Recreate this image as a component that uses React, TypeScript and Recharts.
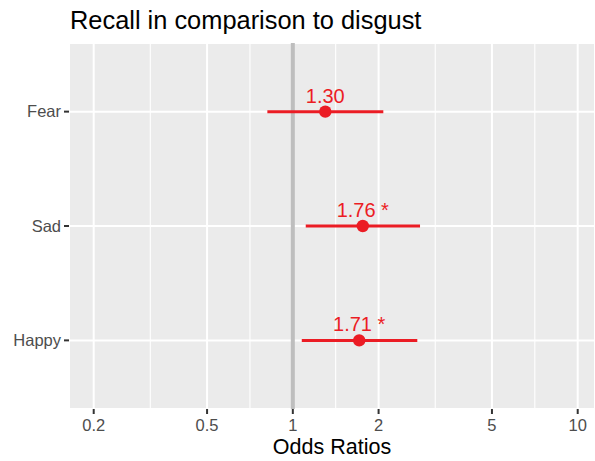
import React from 'react';
import {
  ScatterChart,
  Scatter,
  XAxis,
  YAxis,
  CartesianGrid,
  ReferenceLine,
  ErrorBar,
} from 'recharts';

const categories = ['Fear', 'Sad', 'Happy'];
const oddsRatios = [1.3, 1.76, 1.71];
const ciLow = [0.814, 1.11, 1.075];
const ciHigh = [2.078, 2.796, 2.735];
const pointLabels = ['1.30', '1.76 *', '1.71 *'];
const xTicks = [0.2, 0.5, 1, 2, 5, 10];
const xMinorBreaks = [0.316, 0.707, 1.414, 3.162, 7.071];
const xDomain = [0.1638, 11.5];

const RED = '#EB1C24';
const FONT = '"Liberation Sans", Arial, Helvetica, sans-serif';

const data = categories.map((cat, i) => ({
  cat,
  pos: categories.length - i,
  or: oddsRatios[i],
  err: [oddsRatios[i] - ciLow[i], ciHigh[i] - oddsRatios[i]],
  label: pointLabels[i],
}));

const yTicks = data.map((d) => d.pos);
const posToCat = (v: number) => {
  const d = data.find((r) => r.pos === v);
  return d ? d.cat : '';
};

const PointShape = (props: any) => {
  const { cx, cy, payload } = props;
  return (
    <g>
      <circle cx={cx} cy={cy} r={6.2} fill={RED} />
      <text
        x={cx}
        y={cy - 9}
        textAnchor="middle"
        fontSize={20}
        fontFamily={FONT}
        fill={RED}
      >
        {payload.label}
      </text>
    </g>
  );
};

export default function App() {
  return (
    <div style={{ position: 'absolute', left: 0, top: 0, width: 595, height: 461, fontFamily: FONT }}>
      <div
        style={{
          position: 'absolute',
          left: 70,
          top: 8,
          fontSize: 25.4,
          lineHeight: '25px',
          color: '#000',
          whiteSpace: 'nowrap',
          fontFamily: FONT,
        }}
      >
        Recall in comparison to disgust
      </div>
      <ScatterChart
        width={595}
        height={461}
        margin={{ top: 43, right: 0, bottom: 0, left: 0 }}
        style={{ fontFamily: FONT }}
      >
        <CartesianGrid
          fill="#EBEBEB"
          fillOpacity={1}
          stroke="#FFFFFF"
          strokeWidth={2}
          horizontal={true}
          vertical={true}
        />
        {xMinorBreaks.map((v) => (
          <ReferenceLine
            key={'m' + v}
            x={v}
            stroke="#FFFFFF"
            strokeWidth={1.1}
            ifOverflow="hidden"
            zIndex={-60}
          />
        ))}
        <ReferenceLine x={1} stroke="#BEBEBE" strokeWidth={4} zIndex={-50} />
        <XAxis
          type="number"
          dataKey="or"
          scale="log"
          domain={xDomain}
          allowDataOverflow={true}
          ticks={xTicks}
          tickFormatter={(v: number) => String(v)}
          axisLine={false}
          tickLine={{ stroke: '#333333', strokeWidth: 2 }}
          tickSize={5}
          tickMargin={5}
          tick={{ fill: '#4D4D4D', fontSize: 16.5, fontFamily: FONT }}
          height={52}
          interval={0}
          label={{
            value: 'Odds Ratios',
            position: 'insideBottom',
            offset: 7.5,
            fill: '#000000',
            fontSize: 21.5,
            fontFamily: FONT,
          }}
        />
        <YAxis
          type="number"
          dataKey="pos"
          domain={[0.4, 3.6]}
          allowDataOverflow={true}
          ticks={yTicks}
          tickFormatter={posToCat}
          axisLine={false}
          tickLine={{ stroke: '#333333', strokeWidth: 2 }}
          tickSize={5}
          tickMargin={3}
          tick={{ fill: '#4D4D4D', fontSize: 16.5, fontFamily: FONT }}
          width={69}
          interval={0}
        />
        <Scatter data={data} shape={<PointShape />} isAnimationActive={false}>
          <ErrorBar
            dataKey="err"
            direction="x"
            width={0}
            stroke={RED}
            strokeWidth={3}
            isAnimationActive={false}
          />
        </Scatter>
      </ScatterChart>
    </div>
  );
}
